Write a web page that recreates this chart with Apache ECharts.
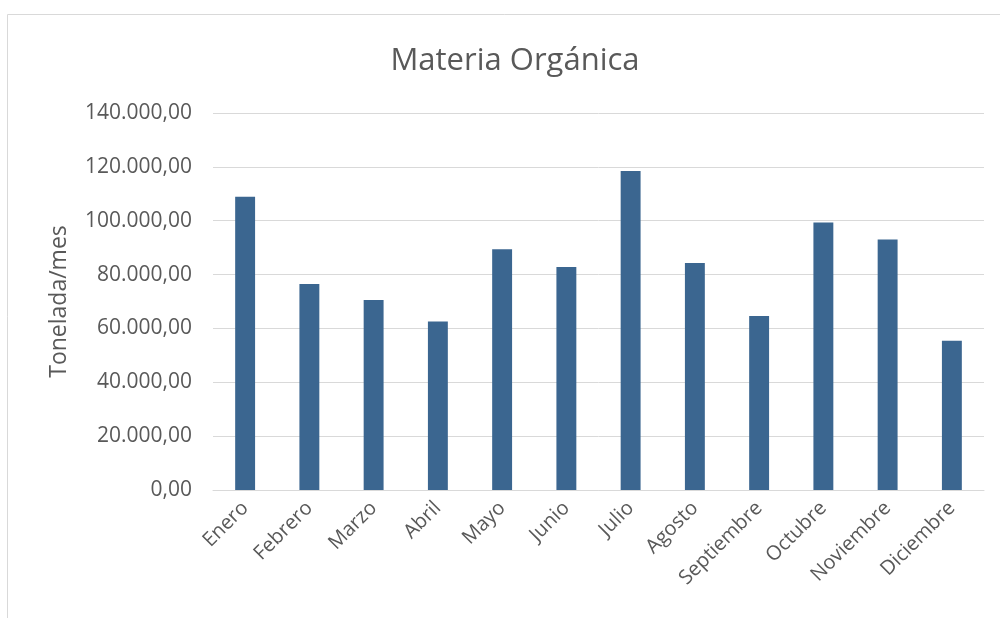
<!DOCTYPE html>
<html>
<head>
<meta charset="utf-8">
<script src="https://cdn.jsdelivr.net/npm/echarts@6/dist/echarts.min.js"></script>
<style>
  html, body { margin: 0; padding: 0; background: #fff; }
  #chart { width: 1000px; height: 618px; }
</style>
</head>
<body>
<div id="chart"></div>
<script>
// datos del gráfico
const meses = ['Enero', 'Febrero', 'Marzo', 'Abril', 'Mayo', 'Junio', 'Julio',
  'Agosto', 'Septiembre', 'Octubre', 'Noviembre', 'Diciembre'];
const toneladas = [108900, 76500, 70600, 62600, 89400, 82800, 118500,
  84300, 64600, 99300, 93000, 55400];
const yMin = 0;
const yMax = 140000;
const yStep = 20000;

const fontFam = '"Open Sans", "Noto Sans", sans-serif';
const grey = '#595959';

// 140000 -> "140.000,00"
const fmt = (v) => {
  const s = String(Math.round(v)).replace(/\B(?=(\d{3})+(?!\d))/g, '.');
  return s + ',00';
};

const chart = echarts.init(document.getElementById('chart'));
chart.setOption({
  animation: false,
  title: {
    text: 'Materia Orgánica',
    left: 510,
    top: 41,
    textAlign: 'center',
    textStyle: { fontFamily: fontFam, fontSize: 31, fontWeight: 'normal', color: grey }
  },
  graphic: [{
    type: 'rect',
    shape: { x: 7.5, y: 14.5, width: 1100, height: 700 },
    style: { fill: 'none', stroke: '#d9d9d9', lineWidth: 1 },
    silent: true
  }],
  grid: { left: 213, right: 16, top: 113, bottom: 128 },
  xAxis: {
    type: 'category',
    data: meses,
    axisLine: { lineStyle: { color: '#d9d9d9', width: 1 } },
    axisTick: { show: false },
    axisLabel: {
      rotate: 45,
      interval: 0,
      margin: 15,
      fontFamily: fontFam,
      fontSize: 20,
      color: grey
    }
  },
  yAxis: {
    type: 'value',
    min: yMin,
    max: yMax,
    interval: yStep,
    name: 'Tonelada/mes',
    nameLocation: 'middle',
    nameGap: 142,
    nameTextStyle: { fontFamily: fontFam, fontSize: 23, color: grey },
    axisLine: { show: false },
    axisTick: { show: false },
    splitLine: { lineStyle: { color: '#d9d9d9', width: 1 } },
    axisLabel: {
      formatter: fmt,
      margin: 21,
      fontFamily: fontFam,
      fontSize: 21,
      color: grey
    }
  },
  series: [{
    type: 'bar',
    data: toneladas,
    barWidth: '31%',
    itemStyle: { color: '#3b6690' }
  }]
});
</script>
</body>
</html>
